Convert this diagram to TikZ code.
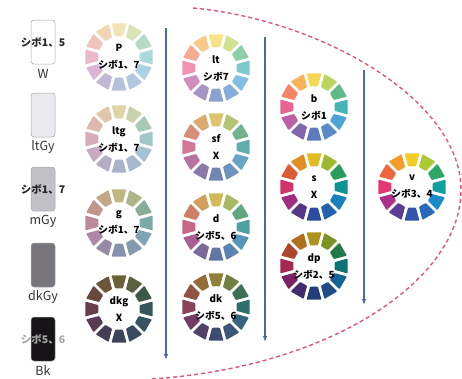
\documentclass[tikz,border=0pt]{standalone}
\usepackage{fontspec}
\setmainfont{Noto Sans CJK JP}
\usetikzlibrary{arrows.meta}

\definecolor{arrowblue}{RGB}{74,104,170}
\definecolor{zonered}{RGB}{226,84,122}
\definecolor{ltgyc}{RGB}{234,234,238}
\definecolor{mgyc}{RGB}{192,192,198}
\definecolor{dkgyc}{RGB}{120,118,124}
\definecolor{bkc}{RGB}{22,20,22}
% vivid hues, clockwise from the top
\definecolor{hue0}{RGB}{242,204,36}
\definecolor{hue1}{RGB}{172,200,52}
\definecolor{hue2}{RGB}{46,168,100}
\definecolor{hue3}{RGB}{16,160,160}
\definecolor{hue4}{RGB}{26,140,204}
\definecolor{hue5}{RGB}{40,106,186}
\definecolor{hue6}{RGB}{48,84,170}
\definecolor{hue7}{RGB}{92,60,148}
\definecolor{hue8}{RGB}{172,48,140}
\definecolor{hue9}{RGB}{226,56,116}
\definecolor{hue10}{RGB}{238,100,60}
\definecolor{hue11}{RGB}{246,156,40}

\begin{document}
\begin{tikzpicture}[
  x=1pt, y=-1pt,
  swatch/.style={draw=black!35, line width=0.5pt, rounded corners=3pt,
                 minimum width=24pt, minimum height=44pt, inner sep=0pt},
  swlab/.style={font=\fontsize{12.5}{13}\selectfont, text=black!80, inner sep=0pt},
  tag/.style={font=\bfseries\fontsize{10.5}{11}\selectfont, text=black!85, inner sep=0pt},
  tone/.style={align=center, font=\bfseries\fontsize{9.8}{17}\selectfont, inner sep=0pt},
  flow/.style={draw=arrowblue, line width=1.1pt, -{Latex[length=6pt,width=4.5pt]}},
  zone/.style={draw=zonered, line width=1.4pt, dash pattern=on 4pt off 3pt},
]
\useasboundingbox (0,0) rectangle (462,378);

%% ---------- grey swatches ----------
\foreach \n/\yy/\col/\lab in {w/42/white/W, ltgy/115/ltgyc/ltGy, mgy/189/mgyc/mGy,
                              dkgy/265/dkgyc/dkGy, bk/339/bkc/Bk}
{
  \node[swatch, fill=\col] (s\n) at (43,\yy) {};
  \node[swlab] (l\n) at (43,{\yy+32}) {\lab};
}
\node[tag] (tw) at (43,42) {シボ1、5};
\node[tag] (tmgy) at (43,189) {シボ1、7};
\node[tag, text=black!35] (tbk) at (43,339) {シボ5、6};

%% ---------- tone wheels ----------
\foreach \nm/\cx/\cy/\mix/\ta/\tb in {
  p/119/57/!32!white!96!black/P/シボ1、7, ltg/119/139/!30!white!88!black/ltg/シボ1、7,
  g/119/223/!40!gray!75!white/g/シボ1、7, dkg/119/309/!40!gray!62!black/dkg/X,
  lt/216/68/!55!white/lt/シボ7, sf/216/147/!60!white!88!black/sf/X,
  d/216/227/!65!gray!88!white/d/シボ5、6, dk/216/307/!58!gray!75!black/dk/シボ5、6,
  b/314/107/!78!white/b/シボ1, s/314/187/!92!black/s/X,
  dp/314/266/!72!black/dp/シボ2、5, v/412/187/!100/v/シボ3、4}
{
  \foreach \i in {0,...,11}{
    \pgfmathsetmacro{\ang}{-90+30*\i}
    \fill[hue\i\mix, shift={(\cx,\cy)}, rounded corners=0.8pt]
      (\ang-10.7:21) -- (\ang-12.5:34.5) -- (\ang+12.5:34.5) -- (\ang+10.7:21) -- cycle;
  }
  \node[tone] (w\nm) at (\cx,\cy) {\ta\\\tb};
}

%% ---------- arrows ----------
\coordinate (a1s) at (166,28);  \coordinate (a1e) at (166,360);
\coordinate (a2s) at (265,37);  \coordinate (a2e) at (265,342);
\coordinate (a3s) at (364,70);  \coordinate (a3e) at (364,305);
\foreach \k in {1,2,3}{\draw[flow] (a\k s) -- (a\k e);}

%% ---------- dashed zone ----------
\draw[zone] (193,8) .. controls (322,20) and (461,100) .. (461,190)
            .. controls (461,280) and (330,368) .. (150,379);

\end{tikzpicture}
\end{document}
